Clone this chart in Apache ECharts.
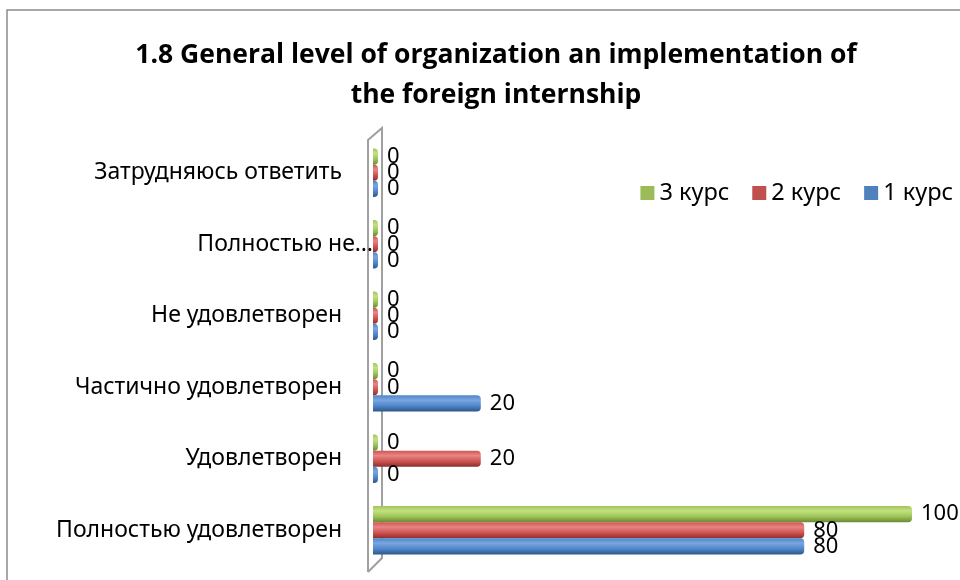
<!DOCTYPE html>
<html><head><meta charset="utf-8">
<script src="https://cdn.jsdelivr.net/npm/echarts@6/dist/echarts.min.js"></script>
<style>html,body{margin:0;padding:0;background:#fff}#c{width:960px;height:580px}</style>
</head><body><div id="c"></div>
<script>
const categories = ['Полностью удовлетворен','Удовлетворен','Частично удовлетворен','Не удовлетворен','Полностью не…','Затрудняюсь ответить'];
const seriesNames = ['3 курс','2 курс','1 курс'];
const kurs3 = [100, 0, 0, 0, 0, 0];
const kurs2 = [80, 20, 0, 0, 0, 0];
const kurs1 = [80, 0, 20, 0, 0, 0];

const FONT = '"Noto Sans", sans-serif';
function cyl(light, mid, dark){
  return {type:'linear',x:0,y:0,x2:0,y2:1,colorStops:[
    {offset:0,color:mid},{offset:0.3,color:light},{offset:0.65,color:mid},{offset:1,color:dark}]};
}
const styles = [
  {c:'#9BBB59', g:cyl('#c3e27f','#9fc45a','#6a8a32')},
  {c:'#C0504D', g:cyl('#e88583','#cd5451','#8a2e2c')},
  {c:'#4F81BD', g:cyl('#7aa6e0','#4f86cb','#2d5687')}
];
const dataSets = [kurs3, kurs2, kurs1];
const G = {left:373, right:48, top:137, bottom:14};
const chart = echarts.init(document.getElementById('c'));
chart.setOption({
  animation:false,
  textStyle:{fontFamily:FONT},
  title:{text:'1.8 General level of organization an implementation of\nthe foreign internship',left:491,textAlign:'center',top:30,
    textStyle:{fontFamily:'"Open Sans", sans-serif',fontSize:26.5,fontWeight:'bold',color:'#000',lineHeight:40}},
  legend:{data:seriesNames.map((n,i)=>({name:n,itemStyle:{color:styles[i].c}})),right:2,top:176,icon:'rect',itemWidth:14,itemHeight:14,itemGap:23,
    textStyle:{fontSize:23.5,color:'#000',fontFamily:FONT}},
  grid:G,
  xAxis:{type:'value',min:0,max:100,show:false},
  yAxis:{type:'category',data:categories,axisTick:{show:false},axisLine:{show:false},
    axisLabel:{fontSize:23,color:'#000',margin:0,fontFamily:FONT,
      formatter:v => v === 'Полностью не…' ? '{b|' + v + '}' : '{a|' + v + '}',
      rich:{a:{fontSize:23,color:'#000',padding:[0,31,0,0]},b:{fontSize:23,color:'#000'}}}},
  series: seriesNames.map((n,i)=>({
    name:n,type:'bar',data:dataSets[i],barGap:'0%',barCategoryGap:'32%',barMinHeight:5,color:styles[i].c,
    itemStyle:{color:styles[i].g,borderRadius:[0,4,4,0]},
    label:{show:true,position:'right',distance:9,fontSize:22,color:'#000',fontFamily:FONT}
  }))
});
const x0 = chart.convertToPixel({xAxisIndex:0},0);
const yTop = G.top, yBot = 580 - G.bottom;
chart.setOption({graphic:[
  {type:'rect',shape:{x:7,y:10,width:1000,height:700},style:{fill:null,stroke:'#8c8c8c',lineWidth:1.5},silent:true},
  {type:'polyline',shape:{points:[[x0-5,yBot+6],[x0-5,yTop+3],[x0+9,yTop-9],[x0+9,yBot-8],[x0-5,yBot+6]]},
   style:{fill:null,stroke:'#a0a0a0',lineWidth:2},silent:true,z:-1}
]});
</script></body></html>
